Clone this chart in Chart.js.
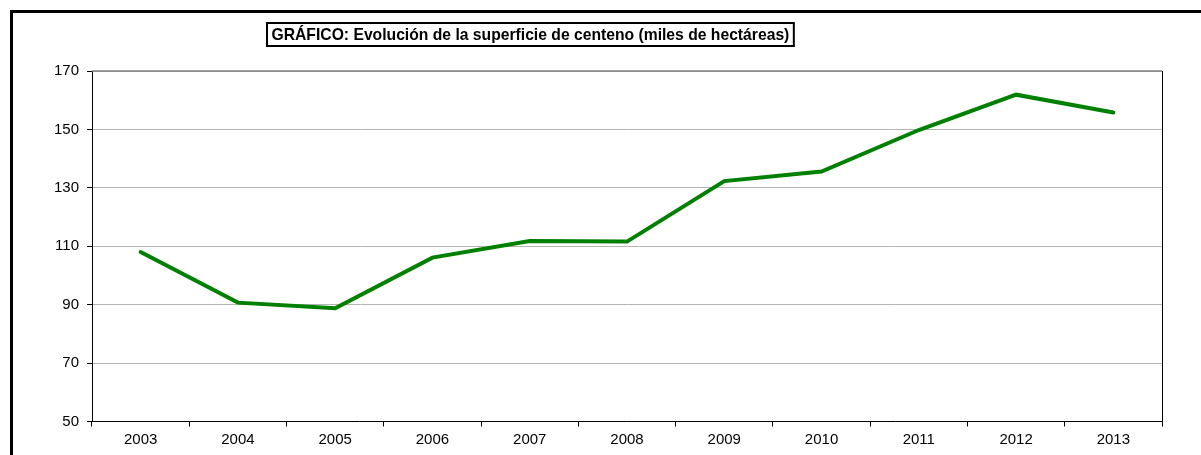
<!DOCTYPE html>
<html>
<head>
<meta charset="utf-8">
<script src="https://cdn.jsdelivr.net/npm/chart.js@4.4.1/dist/chart.umd.min.js"></script>
<style>
html,body{margin:0;padding:0;background:#fff;}
#wrap{position:relative;width:1201px;height:455px;}
</style>
</head>
<body>
<div id="wrap"><canvas id="c" width="1201" height="455"></canvas></div>
<script>
const categories = ['2003','2004','2005','2006','2007','2008','2009','2010','2011','2012','2013'];
const superficie = [108.0, 90.7, 88.8, 106.1, 111.8, 111.6, 132.3, 135.6, 149.8, 161.9, 155.8];
const titleText = 'GRÁFICO: Evolución de la superficie de centeno (miles de hectáreas)';
const yMin = 50, yMax = 170, yStep = 20;

const framePlugin = {
  id: 'frame',
  afterDraw(chart) {
    const ctx = chart.ctx;
    const a = chart.chartArea;
    ctx.save();
    // outer frame
    ctx.strokeStyle = '#000';
    ctx.lineWidth = 3;
    ctx.beginPath();
    ctx.moveTo(11.5, 460);
    ctx.lineTo(11.5, 11.5);
    ctx.lineTo(1210, 11.5);
    ctx.stroke();
    // plot top (gray) and right (black)
    ctx.lineWidth = 1.5;
    ctx.strokeStyle = '#808080';
    ctx.beginPath();
    ctx.moveTo(a.left, a.top);
    ctx.lineTo(a.right, a.top);
    ctx.stroke();
    ctx.strokeStyle = '#000';
    ctx.lineWidth = 1;
    ctx.beginPath();
    ctx.moveTo(a.right + 0.5, a.top);
    ctx.lineTo(a.right + 0.5, a.bottom + 4);
    ctx.stroke();
    // title box
    ctx.font = 'bold 15.7px "Liberation Sans", Arial, sans-serif';
    const tw = ctx.measureText(titleText).width;
    const bx = 267, by = 23, bh = 23;
    const bw = tw + 9;
    ctx.fillStyle = '#fff';
    ctx.fillRect(bx, by, bw, bh);
    ctx.lineWidth = 2;
    ctx.strokeStyle = '#000';
    ctx.strokeRect(bx, by, bw, bh);
    ctx.fillStyle = '#000';
    ctx.textBaseline = 'middle';
    ctx.textAlign = 'left';
    ctx.fillText(titleText, bx + 4.5, by + bh / 2 + 1);
    ctx.restore();
  }
};

new Chart(document.getElementById('c'), {
  type: 'line',
  data: {
    labels: categories,
    datasets: [{
      data: superficie,
      borderColor: '#008000',
      borderWidth: 4,
      pointRadius: 0,
      tension: 0,
      fill: false,
      borderCapStyle: 'round',
      borderJoinStyle: 'miter'
    }]
  },
  options: {
    responsive: false,
    animation: false,
    devicePixelRatio: 1,
    layout: { padding: { left: 0, top: 71, right: 39, bottom: 0 } },
    plugins: { legend: { display: false }, tooltip: { enabled: false }, title: { display: false } },
    scales: {
      x: {
        offset: true,
        grid: { offset: true, drawOnChartArea: false, drawTicks: true, tickLength: 5, tickColor: '#000' },
        border: { display: true, color: '#000', width: 1 },
        ticks: { color: '#000', font: { family: '"Liberation Sans", Arial, sans-serif', size: 15 }, padding: 4, maxRotation: 0, autoSkip: false },
        afterFit(s) { s.height = 33.5; }
      },
      y: {
        min: yMin, max: yMax,
        grid: { color: '#b4b4b4', lineWidth: 1, drawTicks: true, tickLength: 5, tickColor: '#000' },
        border: { display: true, color: '#000', width: 1 },
        ticks: { stepSize: yStep, color: '#000', font: { family: '"Liberation Sans", Arial, sans-serif', size: 15 }, padding: 8 },
        afterFit(s) { s.width = 92; }
      }
    }
  },
  plugins: [framePlugin]
});
</script>
</body>
</html>
